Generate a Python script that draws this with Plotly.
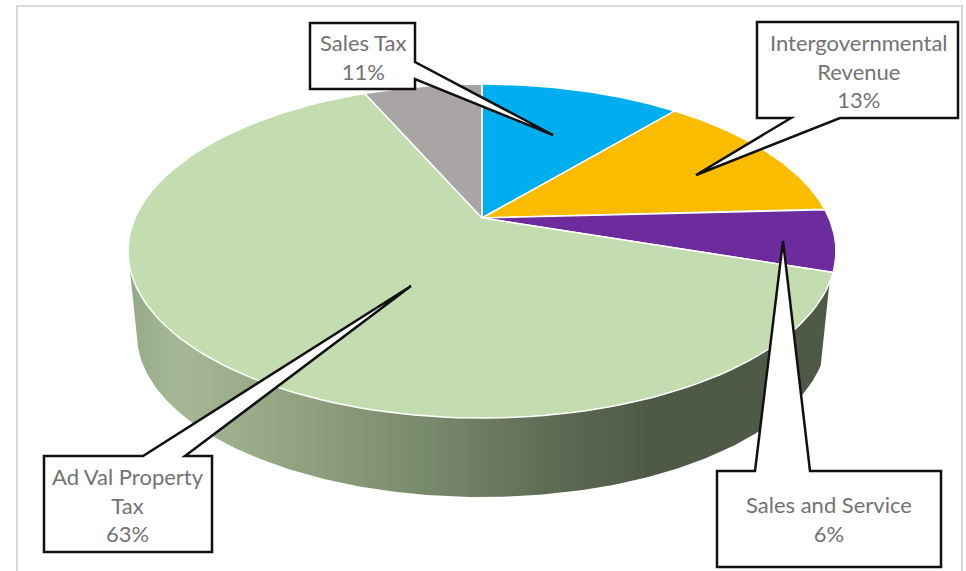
import numpy as np
import plotly.graph_objects as go

# Revenue shares, clockwise from twelve o'clock; the unlabelled wedge is an estimate
categories = ["Sales Tax", "Intergovernmental Revenue", "Sales and Service", "Ad Val Property Tax", "Other"]
shares = [11, 13, 6, 63, 6.5]
slice_colors = ["#00AEEF", "#FBBC00", "#6D2C9E", "#C4DDB0", "#A9A5A5"]

# Tilted-disc projection (pixel axes, y downward)
CX, CY = 482, 218
RX, RY, PERSP = 347, 160.5, 0.1976
WALL_SCALE, WALL_DROP = 0.975, 84
WALL_START, WALL_END = 112, 258  # degrees of rim that show a side wall


def project(theta_deg, scale=1.0, drop=0.0):
    t = np.radians(theta_deg)
    d = 1 + PERSP * np.cos(t)
    return (CX + scale * RX * np.sin(t) / d,
            CY + drop - scale * RY * np.cos(t) / d)


fig = go.Figure()

# Side wall with a left-to-right shading
rim_t = np.linspace(WALL_START, WALL_END, 200)
x_top, y_top = project(rim_t)
x_bot, y_bot = project(rim_t[::-1], WALL_SCALE, WALL_DROP)
wall_stops = [[0.0, "#94A985"], [0.07, "#A6B896"], [0.25, "#8FA17F"], [0.42, "#788A6C"],
              [0.62, "#5B6851"], [0.74, "#4F5A46"], [1.0, "#4F5A46"]]
fig.add_trace(go.Scatter(
    x=np.r_[x_top, x_bot], y=np.r_[y_top, y_bot], mode="lines", fill="toself",
    line=dict(width=0), showlegend=False, hoverinfo="skip",
    fillgradient=dict(type="horizontal", colorscale=wall_stops, start=128, stop=836),
))

# Top face: one wedge per share
edges = np.cumsum([0] + shares) / sum(shares) * 360
for i, name in enumerate(categories):
    t = np.linspace(edges[i], edges[i + 1], 120)
    x, y = project(t)
    fig.add_trace(go.Scatter(
        x=np.r_[CX, x, CX], y=np.r_[CY, y, CY], mode="lines", fill="toself", name=name,
        fillcolor=slice_colors[i], line=dict(color="white", width=1.5),
        showlegend=False, hoverinfo="skip",
    ))


def callout(x0, y0, x1, y1, base, tip):
    """Label box whose outline runs out to a pointer tip."""
    (bx0, by0), (bx1, by1) = base
    if by0 == y0:      # pointer leaves the top edge
        pts = [(x0, y0), (bx0, by0), tip, (bx1, by1), (x1, y0), (x1, y1), (x0, y1)]
    elif by0 == y1:    # bottom edge
        pts = [(x0, y0), (x1, y0), (x1, y1), (bx1, by1), tip, (bx0, by0), (x0, y1)]
    else:              # right edge
        pts = [(x0, y0), (x1, y0), (bx0, by0), tip, (bx1, by1), (x1, y1), (x0, y1)]
    path = "M " + " L ".join(f"{px} {py}" for px, py in pts) + " Z"
    return dict(type="path", path=path, xref="x", yref="y", fillcolor="white",
                line=dict(color="#111111", width=2.5), layer="above")


shapes = [
    # Chart-area frame
    dict(type="path", path="M 17 571 L 17 6 L 962 6 L 962 571", xref="x", yref="y",
         line=dict(color="#D9D9D9", width=2), layer="below"),
    callout(310, 23, 415, 89, [(415, 62), (415, 79)], (553, 135)),
    callout(757, 22, 958, 118, [(791, 118), (840, 118)], (696, 175)),
    callout(717, 471, 941, 567, [(755, 471), (810, 471)], (783, 241)),
    callout(44, 456, 212, 552, [(143, 456), (185, 456)], (411, 286)),
]

label_lines = ["Sales Tax<br>11%", "Intergovernmental<br>Revenue<br>13%",
               "Sales and Service<br>6%", "Ad Val Property<br>Tax<br>63%"]
label_centers = [(362.5, 56.5), (858.5, 71), (829, 519), (128, 505)]
annotations = [
    dict(x=lx, y=ly, xref="x", yref="y", text=txt, showarrow=False, align="center",
         font=dict(family="Lato", size=22, color="#737373"))
    for txt, (lx, ly) in zip(label_lines, label_centers)
]

fig.update_layout(
    width=966, height=571, autosize=False, margin=dict(l=0, r=0, t=0, b=0),
    paper_bgcolor="white", plot_bgcolor="white",
    xaxis=dict(range=[0, 966], visible=False, fixedrange=True),
    yaxis=dict(range=[571, 0], visible=False, fixedrange=True),
    shapes=shapes, annotations=annotations,
)
fig.write_html("out.html", config={"displayModeBar": False})
